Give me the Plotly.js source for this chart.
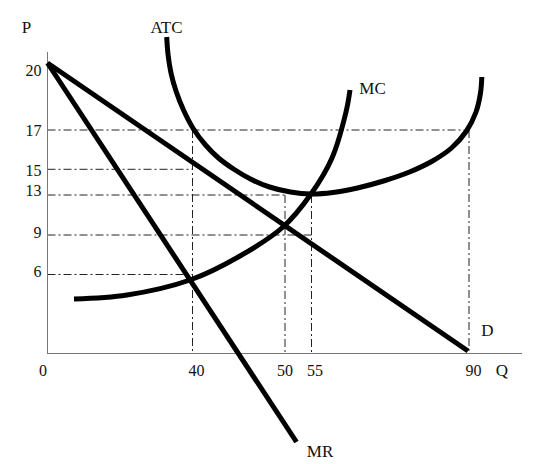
<!DOCTYPE html>
<html>
<head>
<meta charset="utf-8">
<script src="https://cdn.plot.ly/plotly-3.0.1.min.js"></script>
<style>html,body{margin:0;padding:0;background:#fff;}#chart{width:560px;height:464px;}</style>
</head>
<body>
<div id="chart"></div>
<script>
// Schematic diagram: positions are in diagram units measured from the origin (Q right, P up).
// Tick labels (economic values) and where they sit on the schematic axes
const priceLabels = ['20', '17', '15', '13', '9', '6'];
const priceLabelPos = [283, 223, 183, 163, 121, 82];
const qtyLabels = ['0', '40', '50', '55', '90'];
const qtyLabelPos = [-4.5, 149, 237.5, 267.5, 426];

// Demand curve D
const demandQ = [0, 420.5];
const demandP = [290, 2];
// Marginal revenue MR
const mrQ = [0, 249];
const mrP = [290, -89];
// Average total cost ATC
const atcQ = [119.2, 120.6, 123.5, 128.5, 136, 146, 158, 171, 186, 203, 222, 243, 263.5, 285.5, 310, 336, 362, 385, 404, 419, 428.5, 433, 434.3];
const atcP = [316, 298, 280, 262, 243, 224, 208, 195, 184, 174, 166, 161, 159, 160.5, 165, 172, 181, 192, 205, 222, 241, 260, 276];
// Marginal cost MC
const mcQ = [26.5, 79.5, 142.5, 192.5, 235.5, 263.5, 284.5, 298.5, 302.5];
const mcP = [54, 58, 73, 97, 126, 159, 195, 241, 263];

// Dash-dot guide lines
const hGuideP = [223, 183.7, 158, 118, 78.5];
const hGuideQEnd = [421.5, 145, 237.5, 264, 145];
const vGuideQ = [145, 237.5, 264, 421.5];
const vGuidePTop = [223, 158, 158, 223];

// Curve labels
const curveLabels = ['P', 'ATC', 'MC', 'D', 'Q', 'MR'];
const curveLabelQ = [-21, 119, 325, 440, 454.5, 272.5];
const curveLabelP = [324, 324, 263, 21, -19, -100];

// Pixel geometry of the axis box (origin and extents)
const W = 560, H = 464;
const originX = 47.5, originY = 353, axisRight = 522, axisTop = 52;

const gx = [], gy = [];
hGuideP.forEach((p, i) => { gx.push(0, hGuideQEnd[i], null); gy.push(p, p, null); });
vGuideQ.forEach((q, i) => { gx.push(q, q, null); gy.push(vGuidePTop[i], 0, null); });

const curveLine = {color: '#000', width: 5};
const splineLine = {color: '#000', width: 5, shape: 'spline', smoothing: 1};
const serif = 'Liberation Serif, Times New Roman, serif';

const data = [
  {x: gx, y: gy, xaxis: 'x', yaxis: 'y', mode: 'lines', hoverinfo: 'skip', cliponaxis: false,
   line: {color: '#222', width: 1, dash: '8px,3px,2px,3px'}},
  {x: demandQ, y: demandP, xaxis: 'x2', yaxis: 'y2', mode: 'lines', line: curveLine},
  {x: mrQ, y: mrP, xaxis: 'x2', yaxis: 'y2', mode: 'lines', line: curveLine},
  {x: atcQ, y: atcP, xaxis: 'x2', yaxis: 'y2', mode: 'lines', line: splineLine},
  {x: mcQ, y: mcP, xaxis: 'x2', yaxis: 'y2', mode: 'lines', line: splineLine},
  {x: curveLabelQ, y: curveLabelP, xaxis: 'x2', yaxis: 'y2', mode: 'text', text: curveLabels,
   textposition: 'middle center', textfont: {family: serif, size: 17, color: '#111'}, hoverinfo: 'skip'}
];

const layout = {
  width: W, height: H,
  margin: {l: 0, r: 0, t: 0, b: 0, pad: 0},
  paper_bgcolor: '#fff', plot_bgcolor: 'rgba(0,0,0,0)',
  showlegend: false,
  font: {family: serif, size: 17, color: '#111'},
  xaxis: {domain: [originX / W, axisRight / W], range: [0, axisRight - originX], anchor: 'y',
          showline: true, linecolor: '#777', linewidth: 1, showgrid: false, zeroline: false,
          showticklabels: false, ticks: '', fixedrange: true},
  yaxis: {domain: [(H - originY) / H, (H - axisTop) / H], range: [0, originY - axisTop], anchor: 'x',
          showline: true, linecolor: '#777', linewidth: 1, showgrid: false, zeroline: false,
          showticklabels: false, ticks: '', fixedrange: true},
  xaxis2: {domain: [0, 1], range: [-originX, W - originX], anchor: 'free', position: (H - originY) / H,
           showline: false, showgrid: false, zeroline: false, ticks: '',
           tickmode: 'array', tickvals: qtyLabelPos, ticktext: qtyLabels, ticklabelstandoff: 6,
           tickfont: {family: serif, size: 16, color: '#111'}, fixedrange: true},
  yaxis2: {domain: [0, 1], range: [originY - H, originY], anchor: 'free', position: originX / W,
           showline: false, showgrid: false, zeroline: false, ticks: '',
           tickmode: 'array', tickvals: priceLabelPos, ticktext: priceLabels, ticklabelstandoff: 6,
           tickfont: {family: serif, size: 16, color: '#111'}, fixedrange: true}
};

Plotly.newPlot('chart', data, layout, {displayModeBar: false, staticPlot: true});
</script>
</body>
</html>
